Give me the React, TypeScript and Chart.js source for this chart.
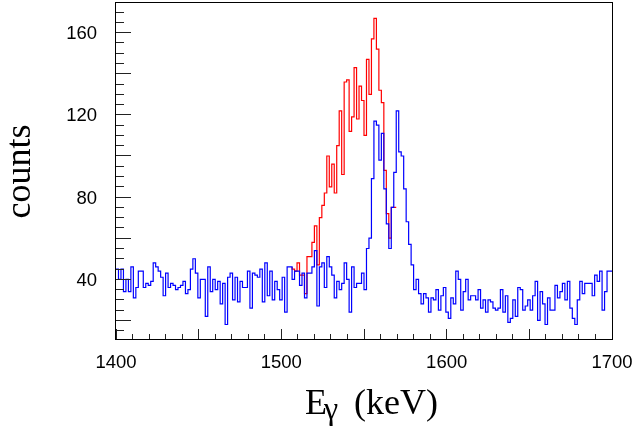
import React, { useEffect, useRef } from "react";
import { Chart, registerables } from "chart.js";

Chart.register(...registerables);

// Histogram binning (keV)
const BIN_START = 1400;
const BIN_WIDTH = 1.5;
const X_MIN = 1400;
const X_MAX = 1700;
const Y_MIN = 10.95;
const Y_MAX = 174.45;

// Blue spectrum: counts per 1.5 keV bin, 1400-1700 keV
const blueCounts = [
  45, 45, 40, 45, 34, 40, 34, 46, 31, 36,
  44, 44, 36, 38, 37, 39, 48, 46, 44, 41,
  32, 43, 36, 38, 37, 35, 36, 37, 39, 33,
  35, 45, 50, 43, 31, 40, 40, 22, 46, 34,
  40, 35, 39, 28, 38, 18, 41, 43, 30, 41,
  29, 39, 36, 36, 44, 26, 43, 42, 41, 45,
  29, 48, 32, 44, 30, 39, 35, 30, 41, 24,
  46, 46, 40, 44, 44, 37, 43, 31, 43, 43,
  46, 54, 27, 46, 48, 36, 51, 46, 42, 31,
  39, 35, 38, 48, 40, 24, 46, 36, 38, 38,
  43, 35, 55, 60, 89, 117, 115, 98, 111, 84,
  67, 55, 75, 92, 122, 102, 100, 84, 68, 57,
  47, 35, 40, 33, 28, 33, 31, 24, 31, 30,
  35, 25, 32, 36, 24, 21, 31, 28, 44, 40,
  25, 34, 40, 30, 32, 32, 30, 35, 26, 30,
  24, 30, 29, 26, 25, 26, 35, 24, 32, 19,
  21, 30, 22, 36, 35, 25, 27, 30, 25, 32,
  39, 20, 34, 28, 18, 31, 25, 25, 37, 31,
  34, 38, 30, 39, 26, 21, 18, 30, 39, 33,
  38, 38, 38, 32, 42, 39, 44, 25, 34, 44,
];

// Red spectrum: starts at bin 71 (1506.5 keV)
const RED_FIRST_BIN = 71;
const redCounts = [
  46, 45, 44, 48, 42, 42, 33, 51, 51, 58,
  66, 47, 70, 76, 82, 100, 85, 96, 82, 105,
  122, 91, 136, 137, 112, 119, 143, 118, 134, 127,
  110, 147, 130, 157, 167, 152, 132, 126, 93, 72,
  60, 75,
];

const xLabelTicks = [1400, 1500, 1600, 1700];
const yLabelTicks = [40, 80, 120, 160];
const X_MINOR_STEP = 10;
const X_MAJOR_STEP = 50;
const Y_MINOR_STEP = 5;
const Y_MAJOR_STEP = 20;
const yTitle = "counts";
const xTitleMain = "E";
const xTitleSub = "γ";
const xTitleUnit = "(keV)";

function histPoints(counts: number[], firstBin: number) {
  const pts = counts.map((v, k) => ({ x: BIN_START + (firstBin + k) * BIN_WIDTH, y: v }));
  pts.push({ x: BIN_START + (firstBin + counts.length) * BIN_WIDTH, y: counts[counts.length - 1] });
  return pts;
}

const rootAxes = {
  id: "rootAxes",
  afterDatasetsDraw(chart: any) {
    const { ctx, chartArea: a, scales } = chart;
    const xs = scales.x;
    const ys = scales.y;
    ctx.save();
    // ticks (inside frame)
    ctx.strokeStyle = "#222";
    ctx.lineWidth = 1;
    ctx.beginPath();
    for (let v = X_MIN; v <= X_MAX; v += X_MINOR_STEP) {
      const px = Math.floor(xs.getPixelForValue(v)) + 0.5;
      const len = v % X_MAJOR_STEP === 0 ? 10 : 5;
      ctx.moveTo(px, a.bottom);
      ctx.lineTo(px, a.bottom - len);
    }
    for (let v = Y_MINOR_STEP * Math.ceil(Y_MIN / Y_MINOR_STEP); v <= Y_MAX; v += Y_MINOR_STEP) {
      const py = Math.floor(ys.getPixelForValue(v)) + 0.5;
      const len = v % Y_MAJOR_STEP === 0 ? 15 : 8;
      ctx.moveTo(a.left, py);
      ctx.lineTo(a.left + len, py);
    }
    ctx.stroke();
    // frame
    ctx.strokeStyle = "#000";
    ctx.strokeRect(a.left - 0.5, a.top - 0.5, a.right - a.left + 1, a.bottom - a.top + 1);

    // tick labels
    ctx.fillStyle = "#000";
    ctx.font = '18.5px "Liberation Sans", Arial, sans-serif';
    ctx.textBaseline = "alphabetic";
    ctx.textAlign = "right";
    for (const v of yLabelTicks) {
      const py = ys.getPixelForValue(v);
      ctx.fillText(String(v), a.left - 19, py + 6.6);
    }
    ctx.textAlign = "center";
    for (const v of xLabelTicks) {
      const px = xs.getPixelForValue(v);
      ctx.fillText(String(v), px, a.bottom + 28.5);
    }

    // axis titles
    ctx.font = '36px "Liberation Serif", "Times New Roman", serif';
    ctx.save();
    ctx.translate(30, (a.top + a.bottom) / 2 + 0.5);
    ctx.rotate(-Math.PI / 2);
    ctx.textAlign = "center";
    ctx.fillText(yTitle, 0, 0);
    ctx.restore();

    ctx.textAlign = "left";
    const base = a.bottom + 75;
    const x0 = a.left + 189;
    ctx.fillText(xTitleMain, x0, base);
    ctx.font = '32px "Liberation Serif", "Times New Roman", serif';
    ctx.fillText(xTitleSub, x0 + 19, base + 5);
    ctx.font = '36px "Liberation Serif", "Times New Roman", serif';
    ctx.fillText(xTitleUnit, x0 + 49, base);
    ctx.restore();
  },
};

export default function App() {
  const ref = useRef<HTMLCanvasElement | null>(null);
  useEffect(() => {
    if (!ref.current) return;
    const chart = new Chart(ref.current, {
      type: "line",
      data: {
        datasets: [
          {
            label: "blue",
            data: histPoints(blueCounts, 0),
            borderColor: "#0000ff",
            borderWidth: 1.2,
            stepped: "after",
            pointRadius: 0,
            fill: false,
            order: 0,
          },
          {
            label: "red",
            data: histPoints(redCounts, RED_FIRST_BIN),
            borderColor: "#ff0000",
            borderWidth: 1.2,
            stepped: "after",
            pointRadius: 0,
            fill: false,
            order: 1,
          },
        ],
      },
      options: {
        animation: false,
        responsive: false,
        devicePixelRatio: 1,
        layout: { padding: { left: 116, top: 3, right: 22, bottom: 89 } },
        plugins: { legend: { display: false }, tooltip: { enabled: false } },
        scales: {
          x: { type: "linear", min: X_MIN, max: X_MAX, display: false },
          y: { type: "linear", min: Y_MIN, max: Y_MAX, display: false },
        },
      },
      plugins: [rootAxes],
    });
    return () => chart.destroy();
  }, []);
  return (
    <div style={{ position: "fixed", left: 0, top: 0, width: 634, height: 428, background: "#fff" }}>
      <canvas ref={ref} width={634} height={428} />
    </div>
  );
}
